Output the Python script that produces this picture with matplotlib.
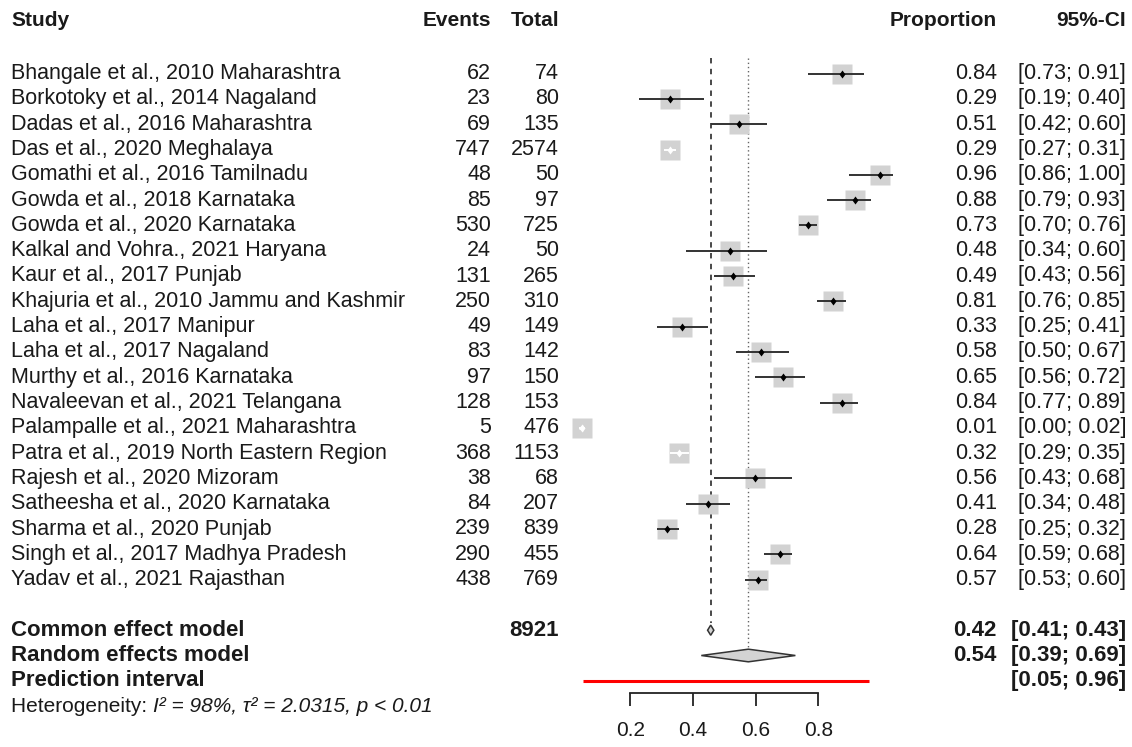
import matplotlib.pyplot as plt
from matplotlib.transforms import blended_transform_factory

plt.rcParams['font.family'] = ['Liberation Sans', 'DejaVu Sans']

studies = [
    "Bhangale et al., 2010 Maharashtra",
    "Borkotoky et al., 2014 Nagaland",
    "Dadas et al., 2016 Maharashtra",
    "Das et al., 2020 Meghalaya",
    "Gomathi et al., 2016 Tamilnadu",
    "Gowda et al., 2018 Karnataka",
    "Gowda et al., 2020 Karnataka",
    "Kalkal and Vohra., 2021 Haryana",
    "Kaur et al., 2017 Punjab",
    "Khajuria et al., 2010 Jammu and Kashmir",
    "Laha et al., 2017 Manipur",
    "Laha et al., 2017 Nagaland",
    "Murthy et al., 2016 Karnataka",
    "Navaleevan et al., 2021 Telangana",
    "Palampalle et al., 2021 Maharashtra",
    "Patra et al., 2019 North Eastern Region",
    "Rajesh et al., 2020 Mizoram",
    "Satheesha et al., 2020 Karnataka",
    "Sharma et al., 2020 Punjab",
    "Singh et al., 2017 Madhya Pradesh",
    "Yadav et al., 2021 Rajasthan",
]
events = [62, 23, 69, 747, 48, 85, 530, 24, 131, 250, 49, 83, 97, 128, 5, 368, 38, 84, 239, 290, 438]
totals = [74, 80, 135, 2574, 50, 97, 725, 50, 265, 310, 149, 142, 150, 153, 476, 1153, 68, 207, 839, 455, 769]
prop = [0.84, 0.29, 0.51, 0.29, 0.96, 0.88, 0.73, 0.48, 0.49, 0.81, 0.33,
        0.58, 0.65, 0.84, 0.01, 0.32, 0.56, 0.41, 0.28, 0.64, 0.57]
ci_lo = [0.73, 0.19, 0.42, 0.27, 0.86, 0.79, 0.70, 0.34, 0.43, 0.76, 0.25,
         0.50, 0.56, 0.77, 0.00, 0.29, 0.43, 0.34, 0.25, 0.59, 0.53]
ci_hi = [0.91, 0.40, 0.60, 0.31, 1.00, 0.93, 0.76, 0.60, 0.56, 0.85, 0.41,
         0.67, 0.72, 0.89, 0.02, 0.35, 0.68, 0.48, 0.32, 0.68, 0.60]

common = (0.42, 0.41, 0.43)
random_eff = (0.54, 0.39, 0.69)
pred_int = (0.05, 0.96)
total_n = 8921
ticks = [0.2, 0.4, 0.6, 0.8]

W, H = 1132, 747
fig = plt.figure(figsize=(W / 100, H / 100), dpi=100)

# layout in pixels
x0, x1 = 579.0, 892.6          # where 0 and 1 fall
row0, rowh = 23.0, 25.3        # first row centre, row height
ylim = ((H - row0) / rowh, -row0 / rowh)

ax = fig.add_axes([x0 / W, 0, (x1 - x0) / W, 1])
ax.set_xlim(0, 1)
ax.set_ylim(*ylim)
ax.axis('off')

# scale bar + prediction line are drawn slightly left of the squares in the original
axr = fig.add_axes([(x0 - 11.5) / W, 0, (x1 - x0) / W, 1])
axr.set_xlim(0, 1)
axr.set_ylim(*ylim)
axr.patch.set_visible(False)
for s in ['top', 'left', 'right']:
    axr.spines[s].set_visible(False)
axr.set_yticks([])

fs = 15.5      # study rows
fs_head = 15   # column headers
fs_sum = 16    # summary rows
txt = '#1a1a1a'
tr = blended_transform_factory(fig.transFigure, ax.transData)


def put(xpx, row, s, ha='left', bold=False, size=fs, **kw):
    return ax.text(xpx / W, row, s, transform=tr, ha=ha, va='center', fontsize=size,
                   color=txt, fontweight='bold' if bold else 'normal', **kw)


# header
put(11, -0.1, "Study", bold=True, size=fs_head)
put(491, -0.1, "Events", ha='right', bold=True, size=fs_head)
put(559, -0.1, "Total", ha='right', bold=True, size=fs_head)
put(997, -0.1, "Proportion", ha='right', bold=True, size=fs_head)
put(1126, -0.1, "95%-CI", ha='right', bold=True, size=fs_head)

first = 2
sq_col = '#d2d2d2'
for i, name in enumerate(studies):
    r = first + i
    put(11, r, name)
    put(491, r, str(events[i]), ha='right')
    put(559, r, str(totals[i]), ha='right')
    put(997, r, f"{prop[i]:.2f}", ha='right')
    put(1126, r, f"[{ci_lo[i]:.2f}; {ci_hi[i]:.2f}]", ha='right')

    ax.plot(prop[i], r, marker='s', ms=14.6, color=sq_col, mec='none', zorder=2, clip_on=False)
    inside = totals[i] >= 1000 or ci_lo[i] < 0.005
    lc = 'white' if inside else '#333333'
    ax.plot([ci_lo[i], ci_hi[i]], [r, r], color=lc, lw=1.4, zorder=3, clip_on=False,
            solid_capstyle='butt')
    if ci_lo[i] < 0.005:
        ax.plot(ci_lo[i] + 0.004, r, marker='<', ms=4, color='white', mec='none', zorder=4)
    ax.plot(prop[i], r, marker='d', ms=4.5, color='white' if inside else 'black',
            mec='none', zorder=4, clip_on=False)

last = first + len(studies) - 1
r_common, r_random, r_pred, r_het = last + 2, last + 3, last + 4, last + 5

# reference lines
ax.plot([common[0]] * 2, [first - 0.6, r_common - 0.3], color='#3a3a3a', lw=1.3,
        linestyle=(0, (3, 3)), zorder=1)
ax.plot([random_eff[0]] * 2, [first - 0.6, r_random - 0.25], color='#666666', lw=1.0,
        linestyle=(0, (1, 2)), zorder=1)

# summary diamonds
for (est, lo, hi), r, hh in [(common, r_common, 0.2), (random_eff, r_random, 0.25)]:
    ax.fill([lo, est, hi, est], [r, r - hh, r, r + hh], facecolor='#d3d3d3',
            edgecolor='#333333', lw=1.1, zorder=3)

put(11, r_common, "Common effect model", bold=True, size=fs_sum)
put(559, r_common, str(total_n), ha='right', bold=True, size=fs_sum)
put(997, r_common, f"{common[0]:.2f}", ha='right', bold=True, size=fs_sum)
put(1126, r_common, f"[{common[1]:.2f}; {common[2]:.2f}]", ha='right', bold=True, size=fs_sum)

put(11, r_random, "Random effects model", bold=True, size=fs_sum)
put(997, r_random, f"{random_eff[0]:.2f}", ha='right', bold=True, size=fs_sum)
put(1126, r_random, f"[{random_eff[1]:.2f}; {random_eff[2]:.2f}]", ha='right', bold=True,
    size=fs_sum)

put(11, r_pred, "Prediction interval", bold=True, size=fs_sum)
put(1126, r_pred, f"[{pred_int[0]:.2f}; {pred_int[1]:.2f}]", ha='right', bold=True, size=fs_sum)

t1 = put(11, r_het, "Heterogeneity: ", size=15)
ax.annotate("I² = 98%, τ² = 2.0315, p < 0.01", xy=(1, 0), xycoords=t1,
            ha='left', va='bottom', fontsize=15, color=txt, style='italic')

# prediction interval
axr.plot(list(pred_int), [r_pred, r_pred], color='red', lw=2.2, solid_capstyle='butt')

# scale bar
axr.spines['bottom'].set_position(('data', r_pred + 0.48))
axr.spines['bottom'].set_bounds(ticks[0], ticks[-1])
axr.spines['bottom'].set_linewidth(1.3)
axr.spines['bottom'].set_color('#222222')
axr.set_xticks(ticks)
axr.set_xticklabels([f"{t:.1f}" for t in ticks])
axr.tick_params(axis='x', direction='out', length=9.4, width=1.3, color='#222222',
                labelsize=15, labelcolor=txt, pad=11)

fig.savefig('out.png', dpi=100)
